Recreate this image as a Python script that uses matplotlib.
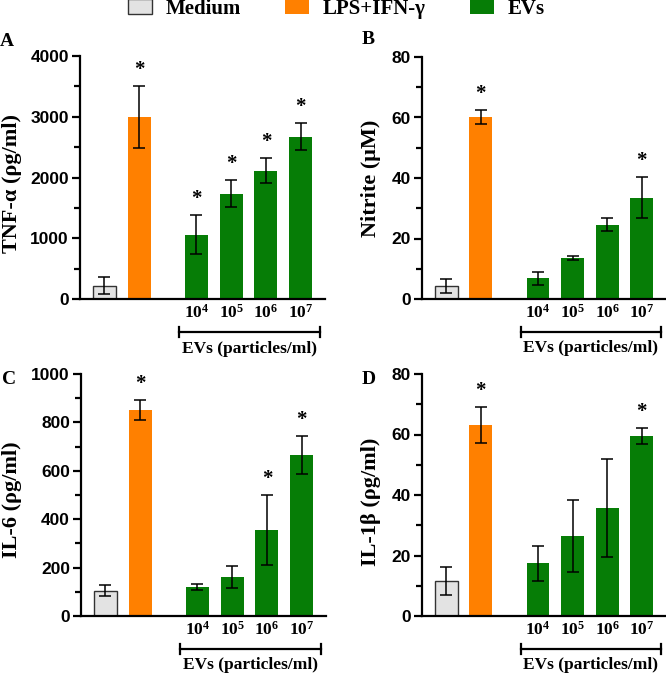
import matplotlib
matplotlib.use("Agg")
import matplotlib.pyplot as plt
import matplotlib.transforms as mtransforms
from matplotlib.patches import Patch
from matplotlib.font_manager import FontProperties

plt.rcParams['mathtext.fontset'] = 'custom'
plt.rcParams['mathtext.rm'] = 'Liberation Serif:bold'
plt.rcParams['mathtext.it'] = 'Liberation Serif:bold'
plt.rcParams['mathtext.bf'] = 'Liberation Serif:bold'

groups = ["Medium", "LPS+IFN-γ", "10^4", "10^5", "10^6", "10^7"]
dose_labels = ["4", "5", "6", "7"]

tnf_mean = [220, 3000, 1060, 1735, 2115, 2670]
tnf_err = [140, 510, 325, 220, 205, 225]
tnf_sig = [False, True, True, True, True, True]

nitrite_mean = [4.2, 60.2, 6.8, 13.6, 24.6, 33.5]
nitrite_err = [2.3, 2.2, 2.1, 0.7, 2.1, 6.7]
nitrite_sig = [False, True, False, False, False, True]

il6_mean = [105, 852, 120, 162, 354, 664]
il6_err = [23, 42, 14, 45, 145, 79]
il6_sig = [False, True, False, False, True, True]

il1b_mean = [11.6, 63.2, 17.5, 26.5, 35.6, 59.5]
il1b_err = [4.7, 5.9, 5.8, 11.8, 16.2, 2.5]
il1b_sig = [False, True, False, False, False, True]

positions = [0, 1, 2.65, 3.65, 4.65, 5.65]
colors = ["#e3e3e3", "#ff8000", "#067d06", "#067d06", "#067d06", "#067d06"]

panels = [
    dict(letter="A", ylabel="TNF-α (ρg/ml)", mean=tnf_mean, err=tnf_err, sig=tnf_sig,
         ymax=4000, major=1000, minor=500, rect=[80, 56, 325, 299], lab=(-0.238, 0.477)),
    dict(letter="B", ylabel="Nitrite (μM)", mean=nitrite_mean, err=nitrite_err, sig=nitrite_sig,
         ymax=80, major=20, minor=10, rect=[422, 57, 666, 299], lab=(-0.168, 0.5)),
    dict(letter="C", ylabel="IL-6 (ρg/ml)", mean=il6_mean, err=il6_err, sig=il6_sig,
         ymax=1000, major=200, minor=100, rect=[81, 374, 326, 616], lab=(-0.242, 0.479)),
    dict(letter="D", ylabel="IL-1β (ρg/ml)", mean=il1b_mean, err=il1b_err, sig=il1b_sig,
         ymax=80, major=20, minor=10, rect=[422, 374, 666, 616], lab=(-0.168, 0.471)),
]

W, H = 666, 673
fig = plt.figure(figsize=(W / 100, H / 100), dpi=100)

serif_bold = dict(family="Liberation Serif", weight="bold")

for p in panels:
    x0, y0, x1, y1 = p["rect"]
    ax = fig.add_axes([x0 / W, (H - y1) / H, (x1 - x0) / W, (y1 - y0) / H])
    ax.bar(positions, p["mean"], width=0.66, color=colors,
           edgecolor=["#333333", "none", "none", "none", "none", "none"],
           linewidth=1.0, zorder=2)
    ax.errorbar(positions, p["mean"], yerr=p["err"], fmt="none", ecolor="black",
                elinewidth=1.1, capsize=4.5, capthick=1.1, zorder=3)
    for x, m, e, s in zip(positions, p["mean"], p["err"], p["sig"]):
        if s:
            ax.text(x, m + e + p["ymax"] * 0.025, "*", ha="center", va="bottom",
                    fontsize=15, **serif_bold)
    ax.set_xlim(-0.7, 6.35)
    ax.set_ylim(0, p["ymax"])
    ax.set_yticks(range(0, p["ymax"] + 1, p["major"]))
    ax.set_yticks(range(0, p["ymax"] + 1, p["minor"]), minor=True)
    ax.set_xticks([])
    for sp in ["top", "right"]:
        ax.spines[sp].set_visible(False)
    for sp in ["left", "bottom"]:
        ax.spines[sp].set_linewidth(1.6)
    ax.tick_params(axis="y", which="major", length=6, width=1.6, pad=2)
    ax.tick_params(axis="y", which="minor", length=4, width=1.6)
    for lab in ax.get_yticklabels():
        lab.set_fontproperties(FontProperties(family="Liberation Sans", weight="bold", size=12.5))
    ax.set_ylabel(p["ylabel"], fontsize=16, **serif_bold)
    ax.yaxis.set_label_coords(*p["lab"])

    trans = mtransforms.blended_transform_factory(ax.transData, ax.transAxes)
    for x, d in zip(positions[2:], dose_labels):
        ax.text(x, -0.058, r"$\mathrm{10^{%s}}$" % d, transform=trans,
                ha="center", va="center", fontsize=12.5)
    bx0, bx1, by = 2.16, 6.2, -0.137
    ax.plot([bx0, bx1], [by, by], transform=trans, color="black", lw=1.6, clip_on=False)
    for bx in (bx0, bx1):
        ax.plot([bx, bx], [by - 0.02, by + 0.02], transform=trans, color="black",
                lw=1.6, clip_on=False)
    ax.text((bx0 + bx1) / 2, by - 0.067, "EVs (particles/ml)", transform=trans,
            ha="center", va="center", fontsize=12.5, **serif_bold)

fig.text(0 / W, 1 - 42 / H, "A", ha="left", va="center", fontsize=14, **serif_bold)
fig.text(362 / W, 1 - 40 / H, "B", ha="left", va="center", fontsize=14, **serif_bold)
fig.text(2 / W, 1 - 380 / H, "C", ha="left", va="center", fontsize=14, **serif_bold)
fig.text(362 / W, 1 - 380 / H, "D", ha="left", va="center", fontsize=14, **serif_bold)

handles = [Patch(facecolor="#e3e3e3", edgecolor="#333333", linewidth=1.0),
           Patch(facecolor="#ff8000", edgecolor="none"),
           Patch(facecolor="#067d06", edgecolor="none")]
leg = fig.legend(handles, ["Medium", "LPS+IFN-γ", "EVs"], loc="center",
                 bbox_to_anchor=(0.505, 1 - 9 / H), ncol=3, frameon=False,
                 prop=dict(family="Liberation Serif", weight="bold", size=15),
                 handlelength=1.15, handleheight=0.75, columnspacing=2.1, handletextpad=0.67,
                 borderpad=0.1)

fig.savefig("out.png", dpi=100)
